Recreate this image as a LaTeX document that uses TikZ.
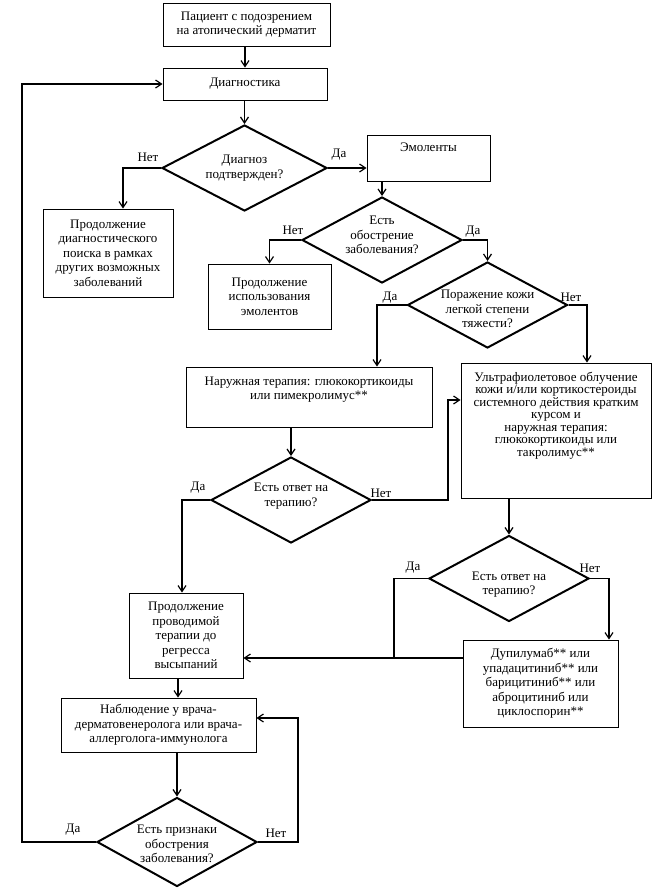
\documentclass[tikz,border=0pt]{standalone}
\usepackage{fontspec}
\setmainfont{Liberation Serif}
\usetikzlibrary{shapes.geometric,arrows.meta,calc}
\newcommand\fsz{\fontsize{13}{14.5}\selectfont}
\newcommand\fszt{\fontsize{13}{12.5}\selectfont}
\begin{document}
\begin{tikzpicture}[x=1pt,y=-1pt,
 box/.style={draw, line width=0.8pt, inner sep=0pt, align=center, font=\fsz},
 dia/.style={draw, diamond, line width=2pt, inner sep=0pt, minimum width=160pt, minimum height=86pt},
 txt/.style={inner sep=0pt, align=center, font=\fsz},
 lbl/.style={inner sep=0pt, font=\fsz},
 arr/.style={line width=1.2pt, -{Straight Barb[length=6pt,width=8pt,line width=1.2pt]}},
 ln/.style={line width=1.2pt}]
\useasboundingbox (0,0) rectangle (658,892);
\fill[white] (0,0) rectangle (658,892);
% boxes
\node[box, minimum width=167pt, minimum height=43pt] (B1) at (246.5,24.5) {Пациент с подозрением\\на атопический дерматит};
\node[box, minimum width=164pt, minimum height=32pt] (B2) at (245,84) {Диагностика};
\node[box, minimum width=130pt, minimum height=88pt] (B3) at (108,253) {Продолжение\\диагностического\\поиска в рамках\\других возможных\\заболеваний};
\node[box, minimum width=123pt, minimum height=46pt] (B4) at (428.5,158) {};
\node[txt, anchor=north] (T4) at ([yshift=-8pt]B4.north) {Эмоленты};
\node[box, minimum width=123pt, minimum height=65pt] (B5) at (269.5,296.5) {Продолжение\\использования\\эмолентов};
\node[box, minimum width=246pt, minimum height=60pt] (B6) at (309,397) {};
\node[txt, anchor=north] (T6) at ([yshift=-10pt]B6.north) {Наружная терапия: глюкокортикоиды\\или пимекролимус**};
\node[box, minimum width=190pt, minimum height=135pt] (B7) at (556,430.5) {};
\node[txt, anchor=north, font=\fszt] (T7) at ([yshift=-9pt]B7.north) {Ультрафиолетовое облучение\\кожи и/или кортикостероиды\\системного действия кратким\\курсом и\\наружная терапия:\\глюкокортикоиды или\\такролимус**};
\node[box, minimum width=155pt, minimum height=87pt] (B8) at (540.5,683.5) {Дупилумаб** или\\упадацитиниб** или\\барицитиниб** или\\аброцитиниб или\\циклоспорин**};
\node[box, minimum width=114pt, minimum height=85pt] (B9) at (186,635.5) {Продолжение\\проводимой\\терапии до\\регресса\\высыпаний};
\node[box, minimum width=195pt, minimum height=54pt] (B10) at (158.5,725) {Наблюдение у врача-\\дерматовенеролога или врача-\\аллерголога-иммунолога};
% diamonds
\node[dia, minimum width=165pt] (D1) at (244.5,168) {};
\node[txt] (T1) at (D1.center) {Диагноз\\подтвержден?};
\node[dia] (D2) at (382,240) {};
\node[txt] (T2) at ([yshift=5pt]D2.center) {Есть\\обострение\\заболевания?};
\node[dia] (D3) at (487.5,305) {};
\node[txt] (T3) at ([yshift=-4pt]D3.center) {Поражение кожи\\легкой степени\\тяжести?};
\node[dia] (D4) at (291,500) {};
\node[txt] (T4b) at ([yshift=4pt]D4.center) {Есть ответ на\\терапию?};
\node[dia] (D5) at (509,578.5) {};
\node[txt] (T5) at ([yshift=-6pt]D5.center) {Есть ответ на\\терапию?};
\node[dia, minimum height=89pt] (D6) at (177,842) {};
\node[txt] (T6b) at ([yshift=-2pt]D6.center) {Есть признаки\\обострения\\заболевания?};
% connectors
\draw[arr] (B2.north |- B1.south) -- (B2.north);
\draw[arr] (D1.north |- B2.south) -- (D1.north);
\draw[arr] (D1.west) -| ([xshift=15pt]B3.north);
\draw[arr] (D1.east) -- (D1.east -| B4.west);
\draw[arr] (D2.north |- B4.south) -- (D2.north);
\draw[arr] (D2.west) -| (B5.north);
\draw[arr] (D2.east) -| (D3.north);
\draw[arr] (D3.west) -| ([xshift=68pt]B6.north);
\draw[arr] (D3.east) -| ([xshift=31pt]B7.north);
\draw[arr] (D4.north |- B6.south) -- (D4.north);
\draw[arr] (D4.west) -| ([xshift=-4pt]B9.north);
\draw[arr] (D4.east) -- ++(76,0) |- ([yshift=30.5pt]B7.west);
\draw[arr] (D5.north |- B7.south) -- (D5.north);
\coordinate (J5) at (394,658);
\draw[ln] (D5.west) -| (J5);
\draw[arr] (D5.east) -| ([xshift=68.5pt]B8.north);
\draw[arr] (B8.west |- J5) -- (B9.east |- J5);
\draw[arr] ([xshift=-8pt]B9.south) -- ([xshift=-8pt]B9.south |- B10.north);
\draw[arr] (D6.north |- B10.south) -- (D6.north);
\draw[arr] (D6.west) -- ++(-74,0) |- (B2.west);
\draw[arr] (D6.east) -- ++(40,0) |- ([yshift=7pt]B10.east);
% labels
\node[lbl] (L1n) at (148,157) {Нет};
\node[lbl] (L1d) at (339,155) {Да};
\node[lbl] (L2n) at (293,230) {Нет};
\node[lbl] (L2d) at (473,232) {Да};
\node[lbl] (L3d) at (390,298) {Да};
\node[lbl] (L3n) at (571,297) {Нет};
\node[lbl] (L4d) at (198,488) {Да};
\node[lbl] (L4n) at (381,493) {Нет};
\node[lbl] (L5d) at (413,568) {Да};
\node[lbl] (L5n) at (590,568) {Нет};
\node[lbl] (L6d) at (73,830) {Да};
\node[lbl] (L6n) at (276,833) {Нет};
\end{tikzpicture}
\end{document}
